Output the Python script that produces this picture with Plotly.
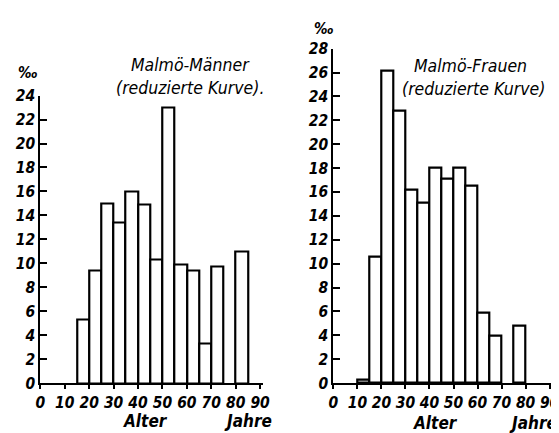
import plotly.graph_objects as go

# Age classes (left edge of each 5-year bin) and rates in per mille
men_ages = [15, 20, 25, 30, 35, 40, 45, 50, 55, 60, 65, 70, 80]
men_rates = [5.3, 9.4, 15.0, 13.4, 16.0, 14.9, 10.3, 23.0, 9.9, 9.4, 3.3, 9.7, 11.0]

women_ages = [10, 15, 20, 25, 30, 35, 40, 45, 50, 55, 60, 65, 75]
women_rates = [0.3, 10.6, 26.2, 22.8, 16.2, 15.1, 18.0, 17.1, 18.0, 16.5, 5.9, 4.0, 4.8]

x_ticks = [0, 10, 20, 30, 40, 50, 60, 70, 80, 90]
men_y_ticks = list(range(0, 25, 2))
women_y_ticks = list(range(0, 29, 2))

FONT = "Liberation Sans Narrow, DejaVu Sans Condensed, sans-serif"
W, H = 559, 433


def px(x):
    return x / W


def py(y):
    return (H - y) / H


fig = go.Figure()
bar_style = dict(marker=dict(color="white", line=dict(color="black", width=2.2)),
                 width=5, offset=0, showlegend=False, hoverinfo="skip")
fig.add_trace(go.Bar(x=men_ages, y=men_rates, xaxis="x", yaxis="y", **bar_style))
fig.add_trace(go.Bar(x=women_ages, y=women_rates, xaxis="x2", yaxis="y2", **bar_style))

tickfont = dict(family=FONT, size=15.5, color="black", style="italic", weight="bold")
xcommon = dict(range=[0, 91], tickvals=x_ticks, ticks="outside", ticklen=4, tickwidth=1.5,
               tickcolor="black", showline=True, linecolor="black", linewidth=2,
               showgrid=False, zeroline=False, tickfont=tickfont, fixedrange=True)
ycommon = dict(ticks="inside", ticklen=7, tickwidth=1.5, tickcolor="black",
               showline=True, linecolor="black", linewidth=2, showgrid=False,
               zeroline=False, tickfont=tickfont, fixedrange=True)

fig.update_layout(
    width=W, height=H,
    margin=dict(l=0, r=0, t=0, b=0),
    paper_bgcolor="white", plot_bgcolor="rgba(0,0,0,0)",
    bargap=0,
    xaxis=dict(domain=[px(28), px(28 + 91 * 2.5)], anchor="y", **xcommon),
    yaxis=dict(domain=[py(382), py(82)], anchor="x", range=[0, 24],
               tickvals=men_y_ticks, **ycommon),
    xaxis2=dict(domain=[px(328), px(328 + 91 * 2.46)], anchor="y2", **xcommon),
    yaxis2=dict(domain=[py(382), py(33)], anchor="x2", range=[0, 28],
                tickvals=women_y_ticks, **ycommon),
)

texts = [
    ("Malmö-Männer", 182, 50, 17.5),
    ("(reduzierte Kurve).", 181, 74, 17.5),
    ("Malmö-Frauen", 468, 51, 17.5),
    ("(reduzierte Kurve)", 471, 75, 17.5),
    ("‰", 15, 58, 15),
    ("‰", 318, 12, 15),
    ("Alter", 136, 422, 17),
    ("Jahre", 241, 422, 17),
    ("Alter", 433, 424, 17),
    ("Jahre", 532, 424, 17),
]
for t, x, y, s in texts:
    fig.add_annotation(text=t, x=px(x), y=py(y), xref="paper", yref="paper",
                       showarrow=False, xanchor="center", yanchor="middle",
                       font=dict(family=FONT, size=s, color="black", style="italic",
                                 weight="bold" if t in ("Alter", "Jahre", "‰") else "normal"))

fig.write_html("out.html")
